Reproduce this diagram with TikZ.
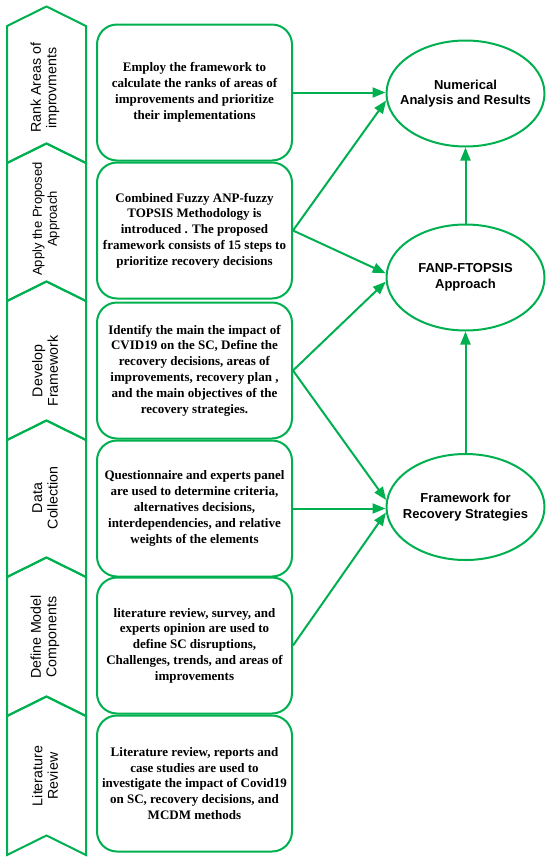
\documentclass[tikz,border=0pt]{standalone}
\usepackage{fontspec}
\setmainfont{Liberation Serif}
\setsansfont{Liberation Sans}
\usetikzlibrary{arrows.meta,shapes.geometric}
\definecolor{fgreen}{RGB}{0,176,80}
\begin{document}
\begin{tikzpicture}[x=1pt,y=-1pt,
  chev/.style={draw=fgreen,line width=2pt,line join=miter},
  chevlabel/.style={rotate=90,font=\sffamily\fontsize{14.2}{15.5}\selectfont,align=center,inner sep=0pt},
  stepbox/.style={draw=fgreen,line width=2pt,rounded corners=20pt,minimum width=195pt,minimum height=136pt,inner sep=0pt,align=center,font=\bfseries\fontsize{13}{15.8}\selectfont},
  goal/.style={ellipse,draw=fgreen,line width=2pt,minimum width=158pt,minimum height=106pt,inner sep=0pt},
  goaltext/.style={inner sep=0pt,align=center,font=\sffamily\bfseries\fontsize{13}{15.7}\selectfont},
  link/.style={draw=fgreen,line width=2pt,-{Triangle[length=13pt,width=10pt]}}]
\fill[white] (0,0) rectangle (550,863);
\useasboundingbox (0,0) rectangle (550,863);

% chevrons
\foreach \a/\b in {26/163,163/301,301/440,440/577,577/716,716/855}
  \draw[chev] (7,\a) -- (46.5,\a-19.5) -- (86,\a) -- (86,\b) -- (46.5,\b-19.5) -- (7,\b) -- cycle;

\node[chevlabel] (c1) at (45,88) {Rank Areas of\\improvments};
\node[chevlabel,font=\sffamily\fontsize{13}{15}\selectfont] (c2) at (46,219) {Apply the Proposed\\Approach};
\node[chevlabel] (c3) at (45,371) {Develop\\Framework};
\node[chevlabel] (c4) at (45,498) {Data\\Collection};
\node[chevlabel] (c5) at (45,637) {Define Model\\Components};
\node[chevlabel] (c6) at (45,776) {Literature\\Review};

% boxes
\node[stepbox] (b1) at (194.5,92.5) {Employ the framework to\\calculate the ranks of areas of\\improvements and prioritize\\their implementations};
\node[stepbox] (b2) at (194.5,230.5) {Combined Fuzzy ANP-fuzzy\\TOPSIS Methodology is\\introduced . The proposed\\framework consists of 15 steps to\\prioritize recovery decisions};
\node[stepbox] (b3) at (194.5,370.5) {Identify the main the impact of\\CVID19 on the SC, Define the\\recovery decisions, areas of\\improvements, recovery plan ,\\and the main objectives of the\\recovery strategies.};
\node[stepbox] (b4) at (194.5,508.5) {Questionnaire and experts panel\\are used to determine criteria,\\alternatives decisions,\\interdependencies, and relative\\weights of the elements};
\node[stepbox] (b5) at (194.5,645.5) {literature review, survey, and\\experts opinion are used to\\define SC disruptions,\\Challenges, trends, and areas of\\improvements};
\node[stepbox] (b6) at (194.5,783.5) {Literature review, reports and\\case studies are used to\\investigate the impact of Covid19\\on SC, recovery decisions, and\\MCDM methods};

% ellipses
\node[goal] (e1) at (465.5,93.5) {};
\node[goaltext] (t1) at (e1) {Numerical\\Analysis and Results};
\node[goal] (e2) at (465.5,277.5) {};
\node[goaltext] (t2) at (e2) {FANP-FTOPSIS\\Approach};
\node[goal] (e3) at (465.5,507) {};
\node[goaltext] (t3) at (e3) {Framework for\\Recovery Strategies};

% connectors
\draw[link] (b1.east) -- (b1.east -| e1.west);
\draw[link] (b2.east) -- (e1.185);
\draw[link] (b2.east) -- (e2.177);
\draw[link] (b3.east) -- (e2.183);
\draw[link] (b3.east) -- (e3.175);
\draw[link] (b4.east) -- (b4.east -| e3.west);
\draw[link] (b5.east) -- (e3.184);
\draw[link] (e2.north) -- (e1.south);
\draw[link] (e3.north) -- (e2.south);
\end{tikzpicture}
\end{document}
